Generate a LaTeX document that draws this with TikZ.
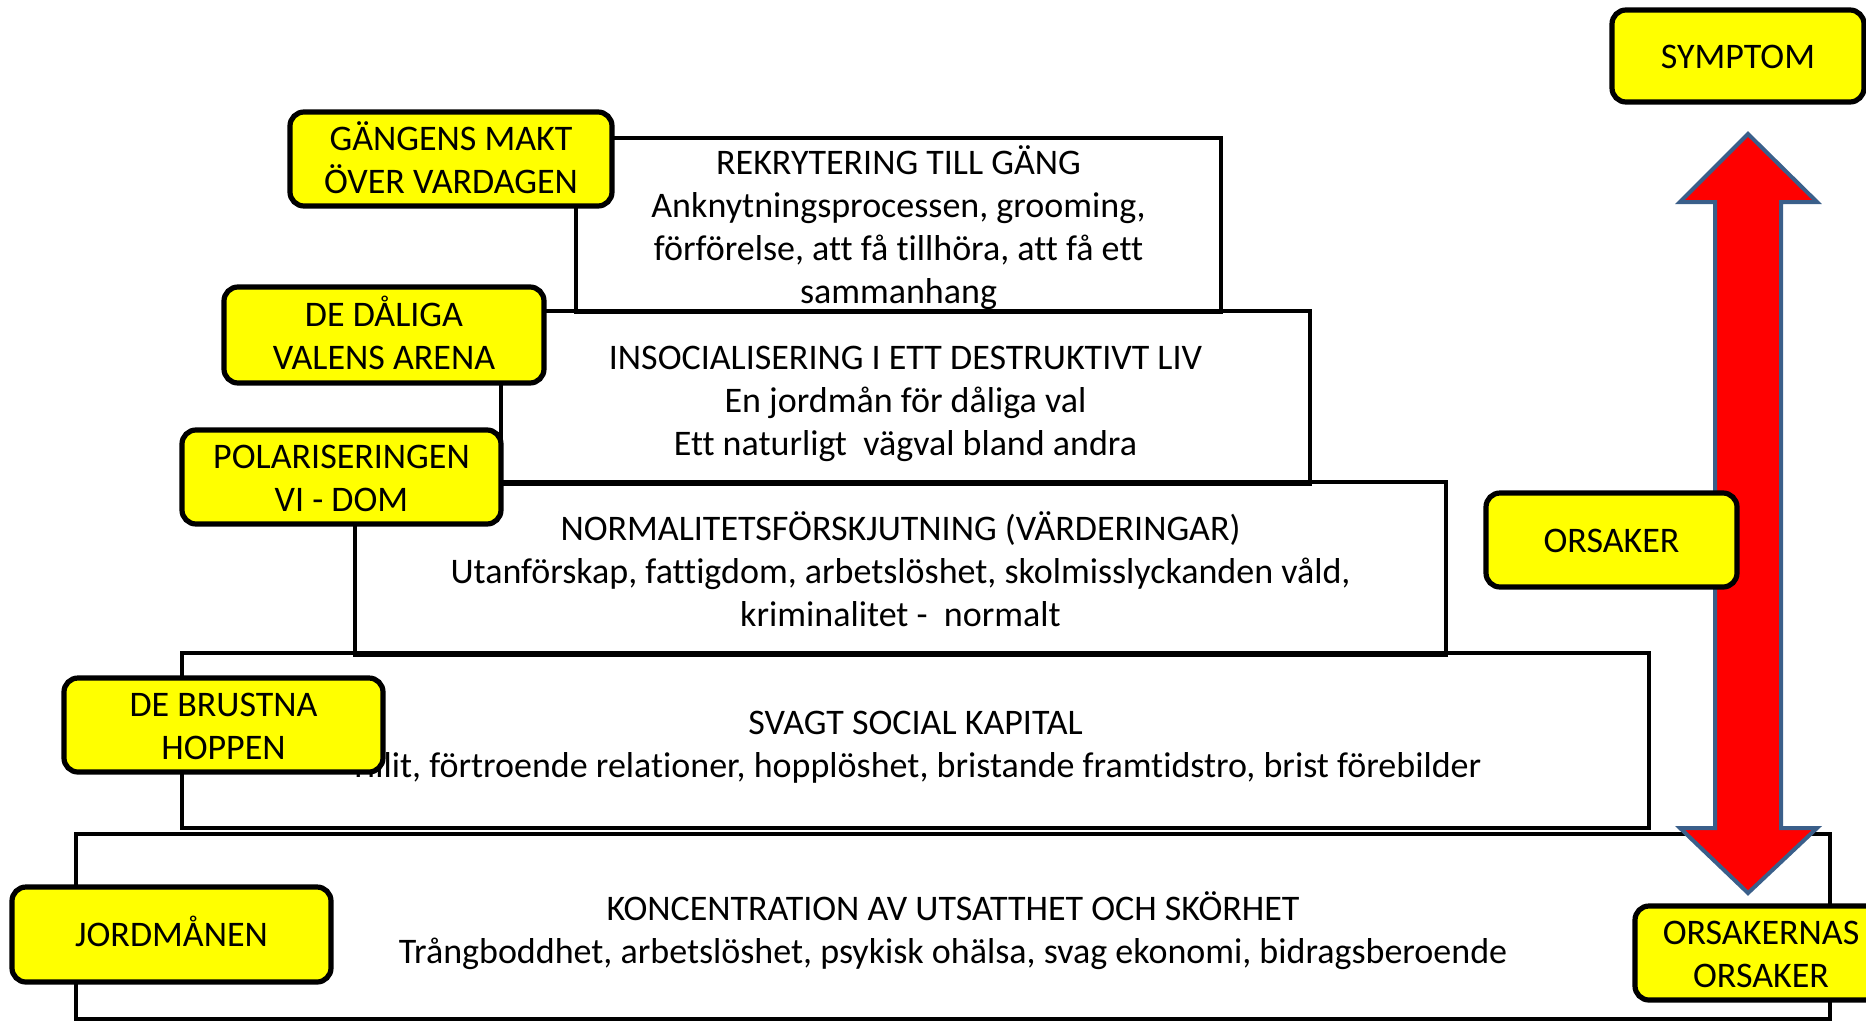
\documentclass[tikz,border=0pt]{standalone}
\usepackage{fontspec}
\setmainfont{Carlito}[Ligatures={NoCommon,NoDiscretionary}]
\definecolor{boxyellow}{RGB}{255,255,0}
\definecolor{arrowblue}{RGB}{58,95,138}
\definecolor{arrowred}{RGB}{255,0,0}
\newcommand\lvlstrut{\rule{0pt}{20pt}}
\newcommand\topstrutb{\rule{0pt}{18.7pt}}
\newcommand\tagstrut{\rule{0pt}{18pt}}
\begin{document}
\begin{tikzpicture}[x=0.5pt,y=-0.5pt,
  txt/.style={align=center, font=\fontsize{18}{21.6}\selectfont,
    execute at begin node={\rule{0pt}{17.1pt}},
    execute at end node={\rule[-4.8pt]{0pt}{4.8pt}}},
  level/.style={txt, draw=black, line width=2pt, inner sep=0pt},
  tag/.style={txt, draw=black, line width=2.6pt, fill=boxyellow, rounded corners=7pt,
    inner sep=0pt}]
\useasboundingbox (0,0) rectangle (1866,1023);
% pyramid levels
\node[level, minimum width=877pt, minimum height=92.5pt] (b1) at (953,926.5)
  {\lvlstrut KONCENTRATION AV UTSATTHET OCH SKÖRHET\\Trångboddhet, arbetslöshet, psykisk ohälsa, svag ekonomi, bidragsberoende};
\node[level, minimum width=733.5pt, minimum height=87.5pt] (b2) at (915.5,740.5)
  {\lvlstrut SVAGT SOCIAL KAPITAL\\Tillit, förtroende relationer, hopplöshet, bristande framtidstro, brist förebilder};
\node[level, minimum width=545.5pt, minimum height=86.5pt] (b3) at (900.5,568.5)
  {\lvlstrut NORMALITETSFÖRSKJUTNING (VÄRDERINGAR)\\Utanförskap, fattigdom, arbetslöshet, skolmisslyckanden våld,\\kriminalitet -\ \ normalt};
\node[level, minimum width=404.5pt, minimum height=86.5pt] (b4) at (905.5,397.5)
  {\lvlstrut INSOCIALISERING I ETT DESTRUKTIVT LIV\\En jordmån för dåliga val\\Ett naturligt\ \ vägval bland andra};
\node[level, inner ysep=-3pt, minimum width=322.5pt, minimum height=87pt] (b5) at (898.5,225)
  {\topstrutb REKRYTERING TILL GÄNG\\Anknytningsprocessen, grooming,\\förförelse, att få tillhöra, att få ett\\sammanhang};
% double arrow
\draw[fill=arrowred, draw=arrowblue, line width=2pt, line join=miter]
  (1748,134) -- (1817,202) -- (1781,202) -- (1781,828) -- (1817,828) -- (1748,893)
  -- (1680,828) -- (1715,828) -- (1715,202) -- (1680,202) -- cycle;
% tags
\node[tag, minimum width=161pt, minimum height=47pt] (t1) at (451,159) {\tagstrut GÄNGENS MAKT\\ÖVER VARDAGEN};
\node[tag, minimum width=160pt, minimum height=48pt] (t2) at (384,335) {\tagstrut DE DÅLIGA\\VALENS ARENA};
\node[tag, minimum width=159.5pt, minimum height=47pt] (t3) at (341.5,477) {\tagstrut POLARISERINGEN\\VI - DOM};
\node[tag, minimum width=159.5pt, minimum height=47pt] (t4) at (223.5,725) {\tagstrut DE BRUSTNA\\HOPPEN};
\node[tag, minimum width=159.5pt, minimum height=47.5pt] (t5) at (171.5,934.5) {JORDMÅNEN};
\node[tag, minimum width=126pt, minimum height=46pt] (s1) at (1738,56) {SYMPTOM};
\node[tag, minimum width=125.5pt, minimum height=47pt] (s2) at (1611.5,540) {ORSAKER};
\node[tag, minimum width=126pt, minimum height=47pt] (s3) at (1761,953) {\tagstrut ORSAKERNAS\\ORSAKER};
\end{tikzpicture}
\end{document}
